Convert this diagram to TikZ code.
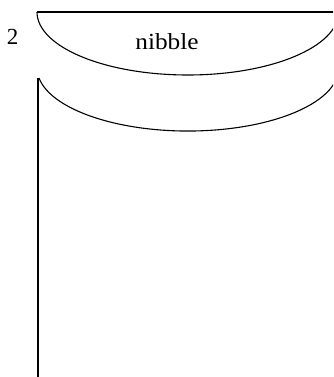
\documentclass[tikz,border=0pt]{standalone}
\usepackage{fontspec}
\usepackage{graphicx}
\setmainfont{Liberation Serif}
\tikzset{
  outline/.style={draw=black, line width=1.1pt},
  lbl/.style={anchor=base, inner sep=0pt, font=\fontsize{23}{23}\selectfont}
}
\begin{document}
\begin{tikzpicture}[x=1pt, y=-1pt]
\useasboundingbox (0,0) rectangle (333,377);
\clip (0,0) rectangle (333,377);
% upper bowl
\coordinate (tl) at (37,12);
\coordinate (tr) at (340,12);
\draw[outline] (tl) -- (tr);
\draw[outline] (tl) arc[start angle=180, end angle=0, x radius=150.8, y radius=63];
% lower bowl with stem
\coordinate (bt) at (38,78);
\coordinate (bb) at (38,380);
\draw[outline] (bt) -- (bb);
\draw[outline] (39,78) arc[start angle=170.9, end angle=0, x radius=150.8, y radius=63];
% labels
\node[lbl] (num) at (12.5,45) {2};
\node[lbl] (word) at (167,50) {\scalebox{1.1}[1]{nibble}};
\end{tikzpicture}
\end{document}
